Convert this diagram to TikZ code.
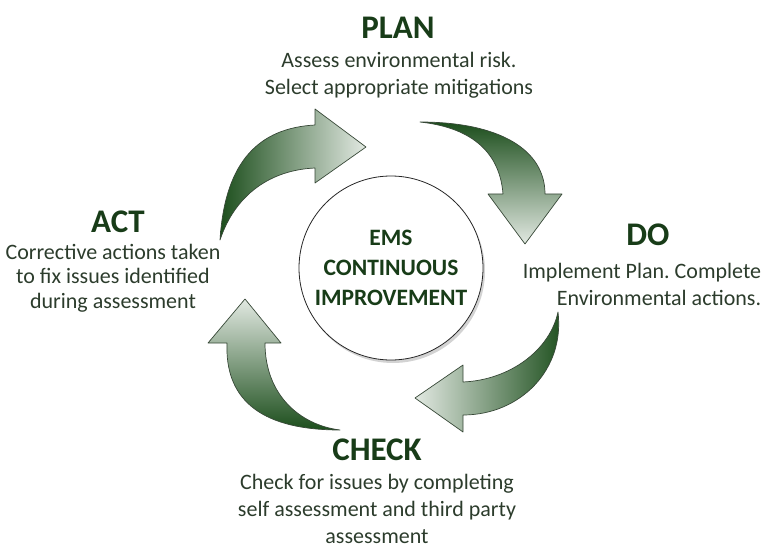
\documentclass[tikz,border=0pt]{standalone}
\usepackage{fontspec}
\setmainfont{Carlito}
\usetikzlibrary{shadows}
\definecolor{emsdark}{RGB}{24,60,24}
\definecolor{emstext}{RGB}{44,60,44}
\definecolor{emsarrow}{RGB}{28,78,28}
\definecolor{emslight}{RGB}{226,233,226}
\definecolor{emsline}{RGB}{55,72,55}
\frenchspacing
\begin{document}
\begin{tikzpicture}[x=1pt,y=-1pt,
  titolo/.style={text=emsdark,font=\fontsize{33}{36}\selectfont\bfseries},
  testo/.style={text=emstext,font=\fontsize{22}{27}\selectfont,align=center,inner sep=1pt},
  freccia/.style={draw=emsline,line width=.7pt,line join=round}]
\useasboundingbox (0,0) rectangle (771,548);
\def\frecciaPlan{(220,240) .. controls (225,160) and (260,128) .. (315,125) -- (315,109) -- (366,147) -- (315,183) -- (315,168) .. controls (270,170) and (235,195) .. (220,240) -- cycle}
\def\frecciaDo{(420,122) .. controls (500,122) and (545,150) .. (545,194) -- (562,194) -- (525,244) -- (488,194) -- (503,194) .. controls (500,155) and (475,128) .. (420,122) -- cycle}
\def\frecciaCheck{(558,312) .. controls (565,370) and (520,415) .. (463,415) -- (463,432) -- (415,398) -- (463,365) -- (463,382) .. controls (510,380) and (550,350) .. (558,312) -- cycle}
\def\frecciaAct{(340,430) .. controls (300,425) and (265,395) .. (265,343) -- (281,343) -- (245,299) -- (208,343) -- (227,343) .. controls (225,395) and (255,430) .. (340,430) -- cycle}
\draw[freccia,left color=emsarrow,right color=emslight] \frecciaPlan;
\draw[freccia,top color=emsarrow,bottom color=emslight] \frecciaDo;
\draw[freccia,right color=emsarrow,left color=emslight] \frecciaCheck;
\draw[freccia,bottom color=emsarrow,top color=emslight] \frecciaAct;
\node[circle,draw=black!85,line width=.8pt,fill=white,minimum size=184pt,
  drop shadow={opacity=.35,shadow xshift=2pt,shadow yshift=-3pt},
  text=emsdark,align=center,font=\fontsize{23.5}{30}\selectfont\bfseries] (ems) at (391,268)
  {EMS\\CONTINUOUS\\IMPROVEMENT};
\node[titolo] (plan) at (398,28) {PLAN};
\node[testo] (plantesto) at (399,75) {Assess environmental risk.\\Select appropriate mitigations};
\node[titolo] (do) at (648,235) {DO};
\node[testo,align=right] (dotesto) at (642,284) {Implement Plan. Complete\\Environmental actions.};
\node[titolo] (check) at (377,450) {CHECK};
\node[testo] (checktesto) at (377,509) {Check for issues by completing\\self assessment and third party\\assessment};
\node[titolo] (act) at (118,222) {ACT};
\node[testo,font=\fontsize{22}{24.5}\selectfont] (acttesto) at (113,278) {Corrective actions taken\\to fix issues identified\\during assessment};
\end{tikzpicture}
\end{document}
